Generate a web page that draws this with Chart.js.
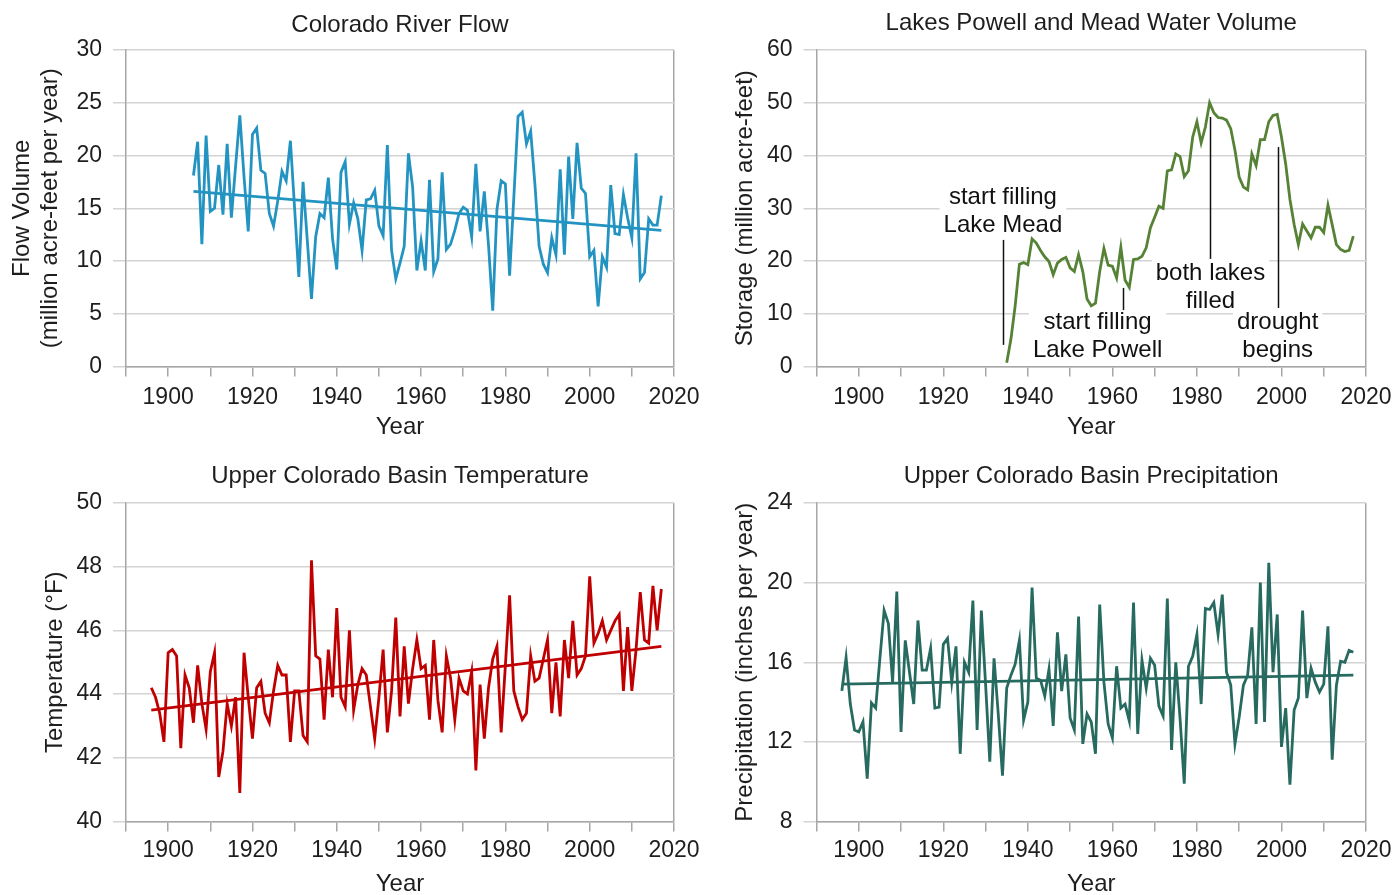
<!DOCTYPE html>
<html>
<head>
<meta charset="utf-8">
<script src="https://cdn.jsdelivr.net/npm/chart.js@4.4.1/dist/chart.umd.min.js"></script>
<style>
html,body{margin:0;padding:0;background:#fff;overflow:hidden;width:1393px;height:895px;}
canvas{position:absolute;}
</style>
</head>
<body>
<canvas id="flowChart" width="712" height="447" style="left:0;top:0"></canvas>
<canvas id="lakeChart" width="730" height="447" style="left:696px;top:0"></canvas>
<canvas id="tempChart" width="712" height="460" style="left:0;top:447px"></canvas>
<canvas id="precipChart" width="730" height="460" style="left:696px;top:447px"></canvas>
<script>
// ---------- DATA ----------
const flowStartYear = 1906;
const flowValues = [
  18.1, 21.3, 11.6, 21.9, 14.7, 15.0, 19.1, 14.4, 21.1, 14.1,
  19.0, 23.8, 18.0, 12.8, 22.0, 22.6, 18.6, 18.3, 14.5, 13.3,
  15.7, 18.5, 17.6, 21.4, 15.0, 8.5, 17.5, 12.0, 6.4, 12.3,
  14.5, 14.1, 17.9, 12.1, 9.2, 18.4, 19.4, 13.5, 15.5, 14.0,
  11.0, 15.8, 15.9, 16.7, 13.3, 12.4, 21.0, 11.0, 8.3, 9.8,
  11.4, 20.2, 17.0, 9.1, 11.9, 9.1, 17.7, 9.0, 10.2, 18.4,
  11.1, 11.6, 12.9, 14.5, 15.1, 14.8, 12.3, 19.2, 12.8, 16.6,
  11.5, 5.3, 14.9, 17.6, 17.3, 8.6, 16.0, 23.7, 24.1, 21.1,
  22.3, 17.3, 11.4, 9.7, 8.9, 12.2, 10.6, 18.7, 10.6, 19.9,
  14.0, 21.2, 16.9, 16.4, 10.4, 11.0, 5.7, 10.4, 9.4, 17.2,
  12.6, 12.5, 16.3, 14.1, 12.2, 20.2, 8.3, 8.9, 14.0, 13.4,
  13.4, 16.2
];
const flowTrendYears = [1906, 2017];
const flowTrendValues = [16.6, 12.9];

const lakeStartYear = 1935;
const lakeValues = [
  0.7, 5.2, 11.5, 19.4, 19.7, 19.3, 24.2, 23.4, 22.0, 20.8,
  19.9, 17.4, 19.6, 20.3, 20.7, 18.7, 18.0, 21.2, 18.0, 12.8,
  11.5, 12.0, 18.0, 22.4, 19.2, 19.0, 16.8, 22.6, 16.4, 15.0,
  20.3, 20.4, 20.9, 22.5, 26.3, 28.3, 30.4, 30.0, 37.1, 37.3,
  40.3, 39.8, 36.0, 37.1, 43.5, 46.4, 42.4, 45.4, 50.0, 48.1,
  47.2, 47.1, 46.7, 45.1, 41.0, 35.9, 34.0, 33.5, 40.3, 38.1,
  43.0, 43.0, 46.4, 47.6, 47.8, 43.5, 38.4, 31.7, 26.9, 23.1,
  27.0, 25.7, 24.4, 26.4, 26.4, 25.4, 30.6, 26.9, 23.1, 22.2,
  21.8, 22.0, 24.7
];

const tempStartYear = 1896;
const tempValues = [
  44.2, 43.9, 43.4, 42.5, 45.3, 45.4, 45.2, 42.3, 44.6, 44.2,
  43.1, 44.9, 43.7, 42.9, 44.7, 45.3, 41.4, 42.2, 43.7, 43.0,
  43.9, 40.9, 45.3, 43.9, 42.6, 44.2, 44.4, 43.4, 43.1, 44.1,
  44.9, 44.6, 44.6, 42.5, 44.1, 44.1, 42.7, 42.5, 48.2, 45.2,
  45.1, 43.2, 45.4, 43.9, 46.7, 43.9, 43.6, 46.0, 43.5, 44.3,
  44.8, 44.6, 43.6, 42.6, 43.9, 45.4, 42.8, 44.1, 46.4, 43.3,
  45.5, 43.7, 44.8, 45.7, 44.8, 44.9, 43.2, 45.7, 43.8, 42.8,
  45.2, 44.5, 43.2, 44.5, 44.1, 44.0, 44.7, 41.6, 44.3, 42.6,
  44.2, 45.1, 45.5, 42.8, 44.9, 47.1, 44.1, 43.6, 43.2, 43.4,
  45.2, 44.4, 44.5, 45.1, 45.7, 43.4, 45.0, 43.3, 45.7, 44.5,
  46.3, 44.6, 44.8, 45.2, 47.7, 45.6, 45.9, 46.3, 45.7, 46.0,
  46.3, 46.5, 44.1, 46.1, 44.1, 45.4, 47.2, 45.7, 45.6, 47.4,
  46.0, 47.3
];
const tempTrendYears = [1896, 2017];
const tempTrendValues = [43.5, 45.5];

const precipStartYear = 1896;
const precipValues = [
  14.56, 16.24, 13.9, 12.6, 12.5, 13.0, 10.15, 13.96, 13.7, 16.2,
  18.6, 17.95, 15.0, 19.55, 12.5, 17.1, 15.5, 13.9, 18.1, 15.6,
  15.6, 16.7, 13.7, 13.75, 16.9, 17.2, 15.0, 16.8, 11.4, 16.0,
  15.5, 19.1, 12.6, 18.6, 14.9, 11.0, 16.2, 13.4, 10.3, 14.7,
  15.35, 15.9, 17.1, 13.1, 14.0, 19.75, 15.2, 15.1, 14.3, 15.65,
  12.8, 17.5, 14.55, 16.4, 13.2, 12.6, 18.3, 11.9, 13.4, 13.0,
  11.4, 18.9, 15.0, 12.9, 12.2, 15.8, 13.7, 13.9, 13.05, 19.0,
  12.4, 16.1, 14.7, 16.2, 15.85, 13.8, 13.3, 19.2, 11.6, 16.0,
  13.2, 9.9, 15.8, 16.3, 17.4, 13.9, 18.7, 18.65, 19.0, 17.4,
  19.4, 15.5, 14.85, 11.9, 13.25, 14.85, 15.35, 17.75, 12.9, 20.0,
  13.0, 21.0, 15.5, 18.4, 11.75, 13.7, 9.85, 13.6, 14.2, 18.6,
  14.2, 15.7, 15.0, 14.5, 14.9, 17.8, 11.1, 14.85, 16.05, 16.0,
  16.6, 16.5
];
const precipTrendYears = [1896, 2017];
const precipTrendValues = [14.9, 15.35];

const xTickMin = 1890;
const xTickMax = 2020;

// ---------- STYLE ----------
const FONT = '"Liberation Sans", Arial, Helvetica, sans-serif';
const GRID = '#d3d3d3';
const AXIS = '#a6a6a6';
const TEXT = '#1e1e1e';
const TITLE_SIZE = 24;
const TICK_SIZE = 23;
Chart.defaults.font.family = FONT;
Chart.defaults.color = TEXT;

function seriesPoints(startYear, values) {
  return values.map((v, i) => ({x: startYear + i, y: v}));
}
function pairPoints(years, values) {
  return years.map((yr, i) => ({x: yr, y: values[i]}));
}

// annotations on the lakes chart (data coordinates)
const lakeNotes = [
  {text: ['start filling', 'Lake Mead'], x: 1934.1, y: [32.1, 26.8], lineX: 1934.1, lineY: [24.0, 4.1]},
  {text: ['start filling', 'Lake Powell'], x: 1956.5, y: [8.4, 3.1], lineX: 1962.4, lineY: [14.9, 10.7]},
  {text: ['both lakes', 'filled'], x: 1983.2, y: [17.7, 12.4], lineX: 1983.2, lineY: [47.3, 20.4]},
  {text: ['drought', 'begins'], x: 1999.1, y: [8.4, 3.1], lineX: 1999.1, lineY: [41.6, 11.1]}
];
const notesPlugin = {
  id: 'lakeNotes',
  beforeDatasetsDraw(chart) {
    const {ctx, scales: {x, y}} = chart;
    ctx.save();
    ctx.font = TITLE_SIZE + 'px ' + FONT;
    ctx.textAlign = 'center';
    ctx.textBaseline = 'middle';
    lakeNotes.forEach(n => {
      const cx = x.getPixelForValue(n.x);
      const ys = n.y.map(v => y.getPixelForValue(v));
      const w = Math.max(...n.text.map(t => ctx.measureText(t).width)) + 8;
      ctx.fillStyle = '#ffffff';
      ctx.fillRect(cx - w / 2, ys[0] - 14, w, ys[ys.length - 1] - ys[0] + 26);
      ctx.fillStyle = '#111111';
      n.text.forEach((t, i) => ctx.fillText(t, cx, ys[i]));
      const lx = Math.round(x.getPixelForValue(n.lineX)) + 0.5;
      ctx.strokeStyle = '#111111';
      ctx.lineWidth = 1.5;
      ctx.beginPath();
      ctx.moveTo(lx, y.getPixelForValue(n.lineY[0]));
      ctx.lineTo(lx, y.getPixelForValue(n.lineY[1]));
      ctx.stroke();
    });
    ctx.restore();
  }
};

function build(id, o) {
  const datasets = [{data: o.series, borderColor: o.color, borderWidth: 2.8, pointRadius: 0, tension: 0, fill: false}];
  if (o.trend) datasets.push({data: o.trend, borderColor: o.color, borderWidth: 2.8, pointRadius: 0, fill: false});
  return new Chart(document.getElementById(id), {
    type: 'line',
    data: {datasets},
    plugins: o.plugins || [],
    options: {
      responsive: false,
      animation: false,
      events: [],
      layout: {padding: {left: 0, right: o.padRight, top: 0, bottom: 0}},
      plugins: {
        legend: {display: false},
        tooltip: {enabled: false},
        title: {
          display: true, text: o.title, fullSize: false, color: TEXT,
          font: {size: TITLE_SIZE, weight: 'normal', lineHeight: 1.2},
          padding: {top: o.tTop, bottom: o.tBottom}
        }
      },
      scales: {
        x: {
          type: 'linear', min: xTickMin, max: xTickMax,
          afterFit: s => { s.height = o.xHeight; },
          ticks: {
            stepSize: 10, autoSkip: false, maxRotation: 0, minRotation: 0,
            padding: o.xTickPad, color: TEXT, font: {size: TICK_SIZE, lineHeight: 1.2},
            callback: v => (Math.round(v) % 20 === 0 ? String(Math.round(v)) : '')
          },
          grid: {
            color: c => (c.tick && c.tick.value === xTickMax) ? AXIS : 'rgba(0,0,0,0)',
            tickColor: AXIS, tickLength: 10, lineWidth: 1.5
          },
          border: {color: AXIS, width: 1.5},
          title: {display: true, text: 'Year', color: TEXT, font: {size: TITLE_SIZE, lineHeight: 1.2}, padding: {top: 0, bottom: o.yearPad}}
        },
        y: {
          min: o.yMin, max: o.yMax,
          afterFit: s => { s.width = o.yWidth; },
          ticks: {stepSize: o.yStep, padding: 11, color: TEXT, font: {size: TICK_SIZE}},
          grid: {color: GRID, tickColor: GRID, tickLength: 13, lineWidth: 1.5},
          border: {color: AXIS, width: 1.5},
          title: {display: true, text: o.yTitle, color: TEXT, font: {size: TITLE_SIZE, lineHeight: 1.2}, padding: {top: o.yTitlePad, bottom: 0}}
        }
      }
    }
  });
}

build('flowChart', {
  title: 'Colorado River Flow',
  yTitle: ['Flow Volume', '(million acre-feet per year)'],
  yMin: 0, yMax: 30, yStep: 5,
  color: '#2394c2',
  series: seriesPoints(flowStartYear, flowValues),
  trend: pairPoints(flowTrendYears, flowTrendValues),
  yWidth: 126, padRight: 38, xHeight: 80.5, tTop: 10.6, tBottom: 10.6,
  xTickPad: 7.7, yearPad: 5.6, yTitlePad: 7.6
});

build('lakeChart', {
  title: 'Lakes Powell and Mead Water Volume',
  yTitle: 'Storage (million acre-feet)',
  yMin: 0, yMax: 60, yStep: 10,
  color: '#558235',
  series: seriesPoints(lakeStartYear, lakeValues),
  plugins: [notesPlugin],
  yWidth: 120.5, padRight: 60, xHeight: 80.5, tTop: 8.6, tBottom: 12.6,
  xTickPad: 7.7, yearPad: 5.6, yTitlePad: 34.6
});

build('tempChart', {
  title: 'Upper Colorado Basin Temperature',
  yTitle: 'Temperature (°F)',
  yMin: 40, yMax: 50, yStep: 2,
  color: '#c00000',
  series: seriesPoints(tempStartYear, tempValues),
  trend: pairPoints(tempTrendYears, tempTrendValues),
  yWidth: 126, padRight: 38, xHeight: 85.5, tTop: 14.6, tBottom: 12.6,
  xTickPad: 5.7, yearPad: 8.6, yTitlePad: 40.6
});

build('precipChart', {
  title: 'Upper Colorado Basin Precipitation',
  yTitle: 'Precipitation (inches per year)',
  yMin: 8, yMax: 24, yStep: 4,
  color: '#276a60',
  series: seriesPoints(precipStartYear, precipValues),
  trend: pairPoints(precipTrendYears, precipTrendValues),
  yWidth: 120.5, padRight: 60, xHeight: 85.5, tTop: 14.6, tBottom: 12.6,
  xTickPad: 5.7, yearPad: 8.6, yTitlePad: 34.6
});
</script>
</body>
</html>
